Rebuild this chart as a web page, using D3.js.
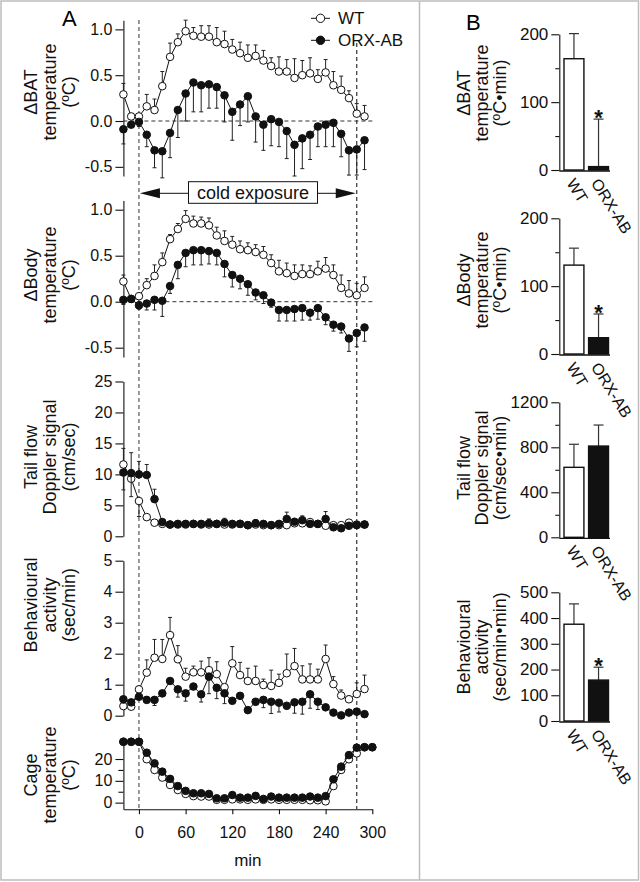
<!DOCTYPE html>
<html><head><meta charset="utf-8">
<script src="https://cdn.jsdelivr.net/npm/d3@7"></script>
<style>
body{margin:0;background:#fff}
svg{display:block;font-family:"Liberation Sans",Arial,Helvetica,sans-serif}
</style></head><body>
<svg id="c" width="640" height="882"></svg>
<script>
// ---------------- DATA ----------------
const groups = ["WT", "ORX-AB"];
const times = [-20,-10,0,10,20,30,40,50,60,70,80,90,100,110,120,130,140,150,160,170,180,190,200,210,220,230,240,250,260,270,280,290];
const cageTimes = [-20,-10,0,10,20,30,40,50,60,70,80,90,100,110,120,130,140,150,160,170,180,190,200,210,220,230,240,250,260,270,280,290,300];
const coldStart = 0, coldEnd = 280;
const xTicks = [0,60,120,180,240,300];

const batWT = [0.29,0.05,0.05,0.16,0.12,0.38,0.70,0.86,0.98,0.93,0.92,0.92,0.86,0.84,0.78,0.74,0.69,0.71,0.66,0.60,0.54,0.54,0.47,0.50,0.52,0.46,0.53,0.39,0.34,0.25,0.08,0.05];
const batWTErr = [0.12,0.03,0.03,0.13,0.12,0.16,0.15,0.09,0.12,0.09,0.12,0.12,0.16,0.14,0.11,0.12,0.14,0.12,0.11,0.09,0.16,0.13,0.21,0.16,0.17,0.10,0.14,0.15,0.15,0.08,0.11,0.12];
const batORX = [-0.09,-0.04,-0.01,-0.15,-0.32,-0.33,-0.13,0.12,0.30,0.42,0.39,0.40,0.37,0.28,0.10,0.18,0.27,0.05,-0.04,0.02,-0.01,-0.11,-0.26,-0.19,-0.15,-0.06,-0.04,-0.02,-0.14,-0.32,-0.31,-0.21];
const batORXErr = [-0.16,-0.03,-0.05,-0.13,-0.19,-0.29,-0.27,-0.30,-0.30,-0.32,-0.29,-0.26,-0.23,-0.29,-0.31,-0.23,-0.28,-0.28,-0.28,-0.29,-0.27,-0.30,-0.34,-0.33,-0.27,-0.22,-0.24,-0.26,-0.25,-0.27,-0.28,-0.32];

const bodyWT = [0.22,0.03,0.06,0.18,0.28,0.43,0.68,0.79,0.90,0.85,0.85,0.83,0.72,0.66,0.62,0.57,0.56,0.54,0.51,0.42,0.33,0.31,0.28,0.30,0.30,0.33,0.36,0.29,0.15,0.09,0.07,0.15];
const bodyWTErr = [0.07,0.02,0.03,0.07,0.12,0.10,0.05,0.06,0.09,0.08,0.07,0.08,0.09,0.11,0.09,0.09,0.08,0.08,0.09,0.09,0.12,0.11,0.12,0.10,0.09,0.11,0.12,0.11,0.14,0.14,0.13,0.12];
const bodyORX = [0.02,0.03,-0.04,-0.02,0.02,0.01,0.17,0.40,0.53,0.56,0.56,0.55,0.53,0.41,0.29,0.25,0.19,0.10,0.07,-0.01,-0.09,-0.09,-0.08,-0.07,-0.12,-0.07,-0.17,-0.25,-0.27,-0.40,-0.34,-0.28];
const bodyORXErr = [-0.05,-0.02,-0.04,-0.07,-0.11,-0.17,-0.08,-0.15,-0.15,-0.16,-0.16,-0.14,-0.13,-0.14,-0.13,-0.11,-0.12,-0.08,-0.09,-0.05,-0.12,-0.12,-0.13,-0.13,-0.08,-0.12,-0.08,-0.07,-0.07,-0.14,-0.15,-0.15];

const tailWT = [11.6,9.3,5.7,3.1,2.2,2.0,1.9,1.9,1.9,2.0,1.9,1.9,2.0,1.9,1.9,2.0,1.8,1.9,1.8,1.8,1.8,1.8,2.1,2.1,2.3,2.0,1.7,1.8,1.8,2.2,1.9,1.9];
const tailWTErr = [2.6,4.2,-2.5,0.4,0.3,0.3,0.2,0.2,0.2,0.2,0.2,0.2,0.2,0.2,0.2,0.2,0.2,0.2,0.2,0.2,0.3,0.3,0.4,0.3,0.3,0.2,0.3,0.2,0.2,0.2,0.2,0.2];
const tailORX = [10.3,10.2,10.0,9.9,6.0,2.3,1.9,2.0,2.0,2.0,2.0,2.1,2.0,2.2,2.0,2.0,1.8,2.1,2.0,1.8,2.0,2.8,2.35,2.6,2.0,2.0,2.8,1.45,1.3,1.7,1.8,1.9];
const tailORXErr = [-2.8,-3.8,2.1,1.7,1.6,0.2,0.2,0.2,0.2,0.2,0.2,0.7,0.2,0.7,0.2,0.2,0.2,0.6,0.2,0.2,0.2,1.1,0.3,0.7,0.2,0.2,1.2,0.2,0.2,0.2,0.2,0.2];

const behWT = [0.31,0.29,0.85,1.39,1.87,1.83,2.60,1.82,1.26,1.40,1.40,1.47,1.34,0.92,1.69,1.31,1.12,1.12,0.99,0.96,1.06,1.37,1.60,1.17,1.17,1.17,1.83,1.02,0.65,0.53,0.70,0.86];
const behWTErr = [0.05,0.05,0.10,0.41,0.59,0.63,0.57,0.44,0.27,0.20,0.36,0.40,0.40,0.08,0.54,0.41,0.41,0.48,0.19,0.51,0.28,0.62,0.57,0.44,0.50,0.33,0.45,0.24,0.18,0.10,0.36,0.45];
const behORX = [0.53,0.43,0.61,0.51,0.51,0.72,1.12,0.85,0.72,0.94,0.69,1.26,0.90,0.72,0.48,0.64,0.18,0.45,0.51,0.45,0.42,0.32,0.43,0.45,0.69,0.45,0.27,0.10,0.01,0.10,0.13,0.05];
const behORXErr = [-0.12,-0.05,-0.08,-0.08,-0.18,-0.08,-0.08,-0.25,-0.25,-0.08,-0.25,-0.55,-0.35,-0.33,-0.08,-0.08,-0.05,-0.10,-0.25,-0.38,-0.30,-0.10,-0.35,-0.40,-0.45,-0.25,-0.08,-0.05,-0.03,-0.05,-0.05,-0.05];

const cageWT = [27.9,27.9,27.9,19.9,15.0,11.5,8.1,5.8,4.0,3.0,2.8,2.8,1.3,1.3,1.5,1.5,1.3,1.5,1.3,1.5,1.3,1.3,1.3,1.3,1.1,1.1,0.6,7.6,15.0,19.9,22.6,25.4,25.4];
const cageORX = [27.9,27.9,27.9,22.9,18.0,14.2,10.9,7.6,5.4,4.3,4.3,4.0,2.0,2.0,3.5,2.3,2.3,3.1,1.7,2.8,2.3,2.3,2.3,2.3,2.8,2.3,3.0,10.7,16.5,21.8,25.2,25.4,25.4];

const batAUC = [164, 5],   batAUCErr = [37, 70];
const bodyAUC = [131, 24], bodyAUCErr = [25, 35];
const tailAUC = [622, 811], tailAUCErr = [205, 187];
const behAUC = [376, 159],  behAUCErr = [79, 50];
const batSig = [false, true], bodySig = [false, true], tailSig = [false, false], behSig = [false, true];

// ---------------- DRAW ----------------
const svg = d3.select("#c");
const INK = "#111";

svg.append("rect").attr("x",1).attr("y",1).attr("width",637.5).attr("height",879)
  .attr("fill","none").attr("stroke","#bdbdbd").attr("stroke-width",1.5);
svg.append("line").attr("x1",419.5).attr("x2",419.5).attr("y1",1).attr("y2",880)
  .attr("stroke","#bdbdbd").attr("stroke-width",1.5);

svg.append("text").attr("x",62).attr("y",26).attr("font-size",22).text("A");
svg.append("text").attr("x",466).attr("y",30).attr("font-size",22).text("B");

const x = d3.scaleLinear().domain([-20,300]).range([123.4,372.3]);

function title(g, lines, xs, cy, size){
  lines.forEach((s,i)=>{
    g.append("text").attr("transform",`translate(${xs[i]},${cy}) rotate(-90)`)
      .attr("text-anchor","middle").attr("font-size",size).attr("fill",INK).text(s);
  });
}

function styleAxis(g, fs){
  g.selectAll("path.domain").attr("stroke",INK).attr("stroke-width",1.1);
  g.selectAll(".tick line").attr("stroke",INK).attr("stroke-width",1.1);
  g.selectAll(".tick text").attr("font-size",fs).attr("fill",INK)
    .attr("font-family",'"Liberation Sans",Arial,sans-serif');
}

const leftPanels = [
  {domain:[-0.6,1.1], range:[176,20.2], ticks:[-0.5,0,0.5,1.0], minor:[], fmt:d=>d.toFixed(1), zero:true,
   title:["ΔBAT","temperature","(ºC)"], cy:92,
   series:[{t:times,v:batWT,e:batWTErr,filled:false},{t:times,v:batORX,e:batORXErr,filled:true}]},
  {domain:[-0.6,1.1], range:[356.9,200.5], ticks:[-0.5,0,0.5,1.0], minor:[], fmt:d=>d.toFixed(1), zero:true,
   title:["ΔBody","temperature","(ºC)"], cy:275,
   series:[{t:times,v:bodyWT,e:bodyWTErr,filled:false},{t:times,v:bodyORX,e:bodyORXErr,filled:true}]},
  {domain:[0,25], range:[536.3,381.5], ticks:[0,5,10,15,20,25], minor:[], fmt:d=>d, zero:false,
   title:["Tail flow","Doppler signal","(cm/sec)"], cy:457,
   series:[{t:times,v:tailWT,e:tailWTErr,filled:false},{t:times,v:tailORX,e:tailORXErr,filled:true}]},
  {domain:[0,5], range:[715.7,560.7], ticks:[0,1,2,3,4,5], minor:[], fmt:d=>d, zero:false,
   title:["Behavioural","activity","(sec/min)"], cy:605,
   series:[{t:times,v:behWT,e:behWTErr,filled:false},{t:times,v:behORX,e:behORXErr,filled:true}]},
  {domain:[-3,30], range:[809.2,737.2], ticks:[0,10,20], minor:[5,15], fmt:d=>d, zero:false,
   title:["Cage","temperature","(ºC)"], cy:775,
   series:[{t:cageTimes,v:cageWT,e:null,filled:false},{t:cageTimes,v:cageORX,e:null,filled:true}]}
];

// dashed verticals
svg.append("line").attr("x1",x(coldStart)).attr("x2",x(coldStart)).attr("y1",20).attr("y2",809)
  .attr("stroke","#333").attr("stroke-dasharray","4,3").attr("stroke-width",1);
svg.append("line").attr("x1",x(coldEnd)).attr("x2",x(coldEnd)).attr("y1",43).attr("y2",809)
  .attr("stroke","#333").attr("stroke-dasharray","4,3").attr("stroke-width",1.2);

leftPanels.forEach(p=>{
  const y = d3.scaleLinear().domain(p.domain).range(p.range);
  const g = svg.append("g");
  if(p.zero){
    g.append("line").attr("x1",x(-20)).attr("x2",x(300)).attr("y1",y(0)).attr("y2",y(0))
      .attr("stroke","#333").attr("stroke-dasharray","4,3").attr("stroke-width",1);
  }
  const ax = g.append("g").attr("transform",`translate(${x(-20)},0)`)
    .call(d3.axisLeft(y).tickValues(p.ticks).tickSize(8).tickSizeOuter(0).tickPadding(3).tickFormat(p.fmt));
  styleAxis(ax, 16);
  if(p.minor.length){
    const mx = g.append("g").attr("transform",`translate(${x(-20)},0)`)
      .call(d3.axisLeft(y).tickValues(p.minor).tickSize(5).tickFormat(""));
    mx.select("path.domain").remove();
    styleAxis(mx,16);
  }
  title(g, p.title, [37,56,75], p.cy, 18);
  p.series.forEach(s=>{
    const pts = s.t.map((t,i)=>({t, v:s.v[i], e: s.e ? s.e[i] : 0}));
    g.append("path").datum(pts).attr("fill","none").attr("stroke",INK).attr("stroke-width",1)
      .attr("d", d3.line().x(d=>x(d.t)).y(d=>y(d.v)));
    pts.filter(d=>d.e).forEach(d=>{
      const y1 = y(d.v), y2 = y(d.v + d.e);
      g.append("line").attr("x1",x(d.t)).attr("x2",x(d.t)).attr("y1",y1).attr("y2",y2)
        .attr("stroke","#222").attr("stroke-width",1);
      g.append("line").attr("x1",x(d.t)-2).attr("x2",x(d.t)+2).attr("y1",y2).attr("y2",y2)
        .attr("stroke","#222").attr("stroke-width",1);
    });
    g.selectAll(null).data(pts).enter().append("circle")
      .attr("cx",d=>x(d.t)).attr("cy",d=>y(d.v)).attr("r",3.8)
      .attr("fill", s.filled ? INK : "#fff").attr("stroke",INK).attr("stroke-width",1);
  });
  if(p.domain[0] === -3){
    const xa = g.append("g").attr("transform",`translate(0,${y(-3)})`)
      .call(d3.axisBottom(x).tickValues(xTicks).tickSize(5).tickSizeOuter(0).tickPadding(12));
    styleAxis(xa, 16);
  }
});

svg.append("text").attr("x",x(140)).attr("y",866).attr("text-anchor","middle")
  .attr("font-size",17).attr("fill",INK).text("min");

// cold exposure annotation
const ay = 193.3;
const bx0 = 188.5, bx1 = 317.5;
svg.append("line").attr("x1",x(coldStart)+10).attr("x2",bx0).attr("y1",ay).attr("y2",ay).attr("stroke",INK);
svg.append("line").attr("x1",bx1).attr("x2",x(coldEnd)-10).attr("y1",ay).attr("y2",ay).attr("stroke",INK);
svg.append("path").attr("d",`M${x(coldStart)+1},${ay}L${x(coldStart)+21},${ay-5}L${x(coldStart)+21},${ay+5}Z`).attr("fill",INK);
svg.append("path").attr("d",`M${x(coldEnd)-1},${ay}L${x(coldEnd)-21},${ay-5}L${x(coldEnd)-21},${ay+5}Z`).attr("fill",INK);
svg.append("rect").attr("x",bx0).attr("y",181.7).attr("width",bx1-bx0).attr("height",21.6)
  .attr("fill","#fff").attr("stroke",INK).attr("stroke-width",1);
svg.append("text").attr("x",(bx0+bx1)/2).attr("y",199).attr("text-anchor","middle")
  .attr("font-size",18).attr("fill",INK).text("cold exposure");

// legend
[{lab:"WT",y:18.3,filled:false},{lab:"ORX-AB",y:40.3,filled:true}].forEach(l=>{
  svg.append("line").attr("x1",311).attr("x2",330).attr("y1",l.y).attr("y2",l.y).attr("stroke",INK);
  svg.append("circle").attr("cx",320.5).attr("cy",l.y).attr("r",4.2)
    .attr("fill",l.filled?INK:"#fff").attr("stroke",INK);
  svg.append("text").attr("x",338).attr("y",l.y+6).attr("font-size",17).attr("fill",INK).text(l.lab);
});

// ---------------- B bar charts ----------------
const axX = 559.3;
const band = d3.scaleBand().domain(groups).range([564,608.5]).paddingInner(0.19).paddingOuter(0);
const bars = [
  {vals:batAUC, errs:batAUCErr, sig:batSig, domain:[0,200], range:[170,34.3], ticks:[0,100,200], minor:[50,150],
   title:["ΔBAT","temperature","(ºC•min)"], cy:93},
  {vals:bodyAUC, errs:bodyAUCErr, sig:bodySig, domain:[0,200], range:[354,218.3], ticks:[0,100,200], minor:[50,150],
   title:["ΔBody","temperature","(ºC•min)"], cy:280},
  {vals:tailAUC, errs:tailAUCErr, sig:tailSig, domain:[0,1200], range:[537.3,402.3], ticks:[0,400,800,1200], minor:[200,600,1000],
   title:["Tail flow","Doppler signal","(cm/sec•min)"], cy:468},
  {vals:behAUC, errs:behAUCErr, sig:behSig, domain:[0,500], range:[721,592.3], ticks:[0,100,200,300,400,500], minor:[],
   title:["Behavioural","activity","(sec/min•min)"], cy:647}
];
bars.forEach(b=>{
  const y = d3.scaleLinear().domain(b.domain).range(b.range);
  const g = svg.append("g");
  const y0 = y(0);
  const ax = g.append("g").attr("transform",`translate(${axX},0)`)
    .call(d3.axisLeft(y).tickValues(b.ticks).tickSize(8).tickSizeOuter(0).tickPadding(3).tickFormat(d3.format("d")));
  styleAxis(ax, 17);
  if(b.minor.length){
    const mx = g.append("g").attr("transform",`translate(${axX},0)`)
      .call(d3.axisLeft(y).tickValues(b.minor).tickSize(4).tickFormat(""));
    mx.select("path.domain").remove();
    styleAxis(mx,16);
  }
  g.append("line").attr("x1",axX).attr("x2",610).attr("y1",y0+1).attr("y2",y0+1)
    .attr("stroke",INK).attr("stroke-width",1.3);
  groups.forEach((grp,i)=>{
    const bx = band(grp), bw = band.bandwidth(), cx = bx + bw/2;
    const top = y(b.vals[i] + b.errs[i]);
    g.append("line").attr("x1",cx).attr("x2",cx).attr("y1",y(b.vals[i])).attr("y2",top)
      .attr("stroke","#333").attr("stroke-width",1.2);
    g.append("line").attr("x1",cx-5).attr("x2",cx+5).attr("y1",top).attr("y2",top)
      .attr("stroke","#333").attr("stroke-width",1.2);
    g.append("rect").attr("x",bx).attr("y",y(b.vals[i])).attr("width",bw).attr("height",y0-y(b.vals[i]))
      .attr("fill", i===0 ? "#fff" : INK).attr("stroke",INK).attr("stroke-width",1.4);
    if(b.sig[i]){
      g.append("text").attr("x",cx).attr("y",top+6).attr("text-anchor","middle")
        .attr("font-size",22).attr("font-weight","bold").attr("fill",INK).text("*");
    }
    g.append("text").attr("transform",`translate(${bx+2},${y0+13}) rotate(58)`)
      .attr("font-size",16).attr("fill",INK).text(grp);
  });
  title(g, b.title, [470,488,506], b.cy, 18);
});
</script>
</body></html>
